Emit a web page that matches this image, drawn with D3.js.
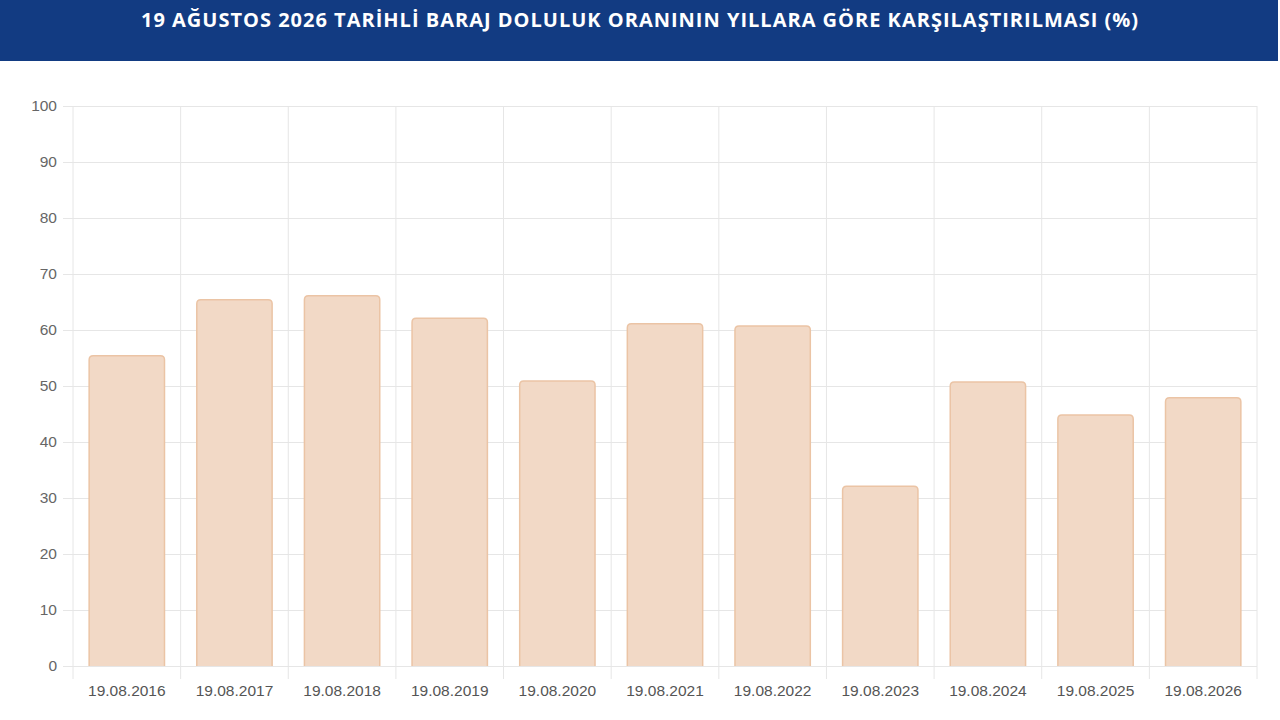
<!DOCTYPE html>
<html>
<head>
<meta charset="utf-8">
<script src="https://cdn.jsdelivr.net/npm/d3@7"></script>
<style>
  body { margin: 0; background: #fff; }
  svg { display: block; }
</style>
</head>
<body>
<div id="chart"></div>
<script>
// veriler
const dates = ["19.08.2016", "19.08.2017", "19.08.2018", "19.08.2019", "19.08.2020", "19.08.2021",
               "19.08.2022", "19.08.2023", "19.08.2024", "19.08.2025", "19.08.2026"];
const fillRates = [55.4, 65.4, 66.1, 62.1, 50.9, 61.1, 60.7, 32.1, 50.7, 44.8, 47.9];
const yTicks = [0, 10, 20, 30, 40, 50, 60, 70, 80, 90, 100];
const title = "19 AĞUSTOS 2026 TARİHLİ BARAJ DOLULUK ORANININ YILLARA GÖRE KARŞILAŞTIRILMASI (%)";

const W = 1280, H = 720;
const margin = {top: 106, right: 23, bottom: 54, left: 73};
const width = W - margin.left - margin.right;
const height = H - margin.top - margin.bottom;

const svg = d3.select("#chart").append("svg")
    .attr("width", W)
    .attr("height", H);

// başlık bandı
svg.append("rect")
    .attr("x", 0).attr("y", 0)
    .attr("width", 1278).attr("height", 61)
    .attr("fill", "#123b82");

svg.append("text")
    .attr("x", 640).attr("y", 27)
    .attr("text-anchor", "middle")
    .attr("fill", "#fff")
    .style("font-family", "'Open Sans', sans-serif")
    .style("font-weight", "700")
    .style("font-size", "20px")
    .style("letter-spacing", "1px")
    .text(title);

const g = svg.append("g")
    .attr("transform", `translate(${margin.left},${margin.top})`);

const x = d3.scaleBand().domain(dates).range([0, width]).padding(0);
const y = d3.scaleLinear().domain([0, 100]).range([height, 0]);

const labelFont = "'Liberation Sans', Arial, sans-serif";

// yatay ızgara
g.append("g")
    .call(d3.axisLeft(y).tickValues(yTicks).tickSize(-width - 10).tickPadding(6))
    .attr("transform", "translate(-10,0)")
    .call(ax => ax.select(".domain").remove())
    .call(ax => ax.selectAll("line").attr("stroke", "#e6e6e6"))
    .call(ax => ax.selectAll("text")
        .attr("fill", "#666")
        .style("font-family", labelFont)
        .style("font-size", "15.5px"));

// dikey ızgara
const xb = dates.map(d => x(d)).concat([width]);
g.append("g").selectAll("line")
    .data(xb)
    .join("line")
    .attr("x1", d => d).attr("x2", d => d)
    .attr("y1", 0).attr("y2", height + 13)
    .attr("stroke", "#e6e6e6");

// x etiketleri
g.append("g")
    .attr("transform", `translate(0,${height})`)
    .call(d3.axisBottom(x).tickSize(0).tickPadding(19))
    .call(ax => ax.select(".domain").remove())
    .call(ax => ax.selectAll("text")
        .attr("fill", "#555")
        .style("font-family", labelFont)
        .style("font-size", "15.5px"));

// çubuklar (üst köşeleri yuvarlak)
const bw = x.bandwidth() * 0.7;
const r = 4;
function barPath(d, i) {
    const x0 = x(dates[i]) + (x.bandwidth() - bw) / 2;
    const x1 = x0 + bw;
    const y0 = y(d);
    const yb = y(0);
    return `M${x0},${yb} L${x0},${y0 + r} Q${x0},${y0} ${x0 + r},${y0} L${x1 - r},${y0} Q${x1},${y0} ${x1},${y0 + r} L${x1},${yb}`;
}

g.selectAll(".bar")
    .data(fillRates)
    .join("path")
    .attr("class", "bar")
    .attr("d", barPath)
    .attr("fill", "#f2d9c6")
    .attr("stroke", "#ebc4a5")
    .attr("stroke-width", 1.5);
</script>
</body>
</html>
